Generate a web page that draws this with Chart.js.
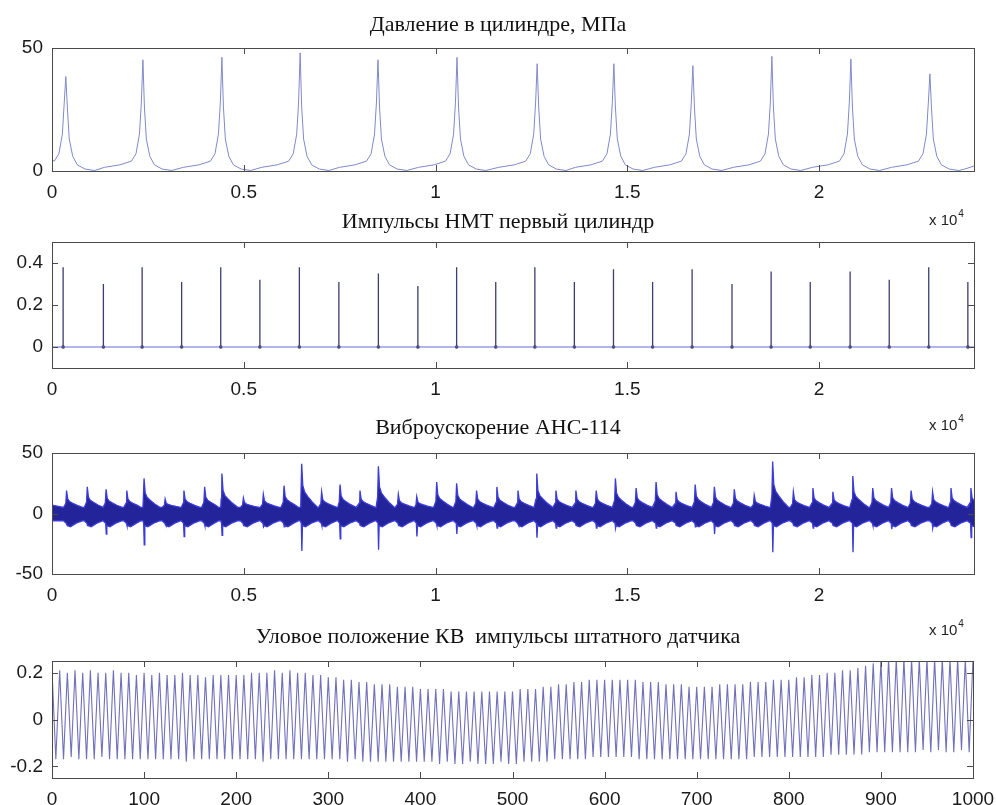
<!DOCTYPE html>
<html>
<head>
<meta charset="utf-8">
<script src="https://cdn.jsdelivr.net/npm/chart.js@4.4.1/dist/chart.umd.min.js"></script>
<style>
  body { margin: 0; background: #fff; }
  #wrap { position: relative; width: 996px; height: 805px; }
  canvas { position: absolute; left: 0; }
</style>
</head>
<body>
<div id="wrap">
  <canvas id="c1" width="996" height="205" style="top:0px"></canvas>
  <canvas id="c2" width="996" height="200" style="top:205px"></canvas>
  <canvas id="c3" width="996" height="205" style="top:405px"></canvas>
  <canvas id="c4" width="996" height="195" style="top:610px"></canvas>
</div>
<script>
// --- tick labels ---
const xTicks = [0, 0.5, 1, 1.5, 2];            // x 10^4
const kvXTicks = [0, 100, 200, 300, 400, 500, 600, 700, 800, 900, 1000];
const yTicksP = [0, 50];
const yTicksN = [0, 0.2, 0.4];
const yTicksV = [-50, 0, 50];
const yTicksK = [-0.2, 0, 0.2];

// --- 1. давление в цилиндре: пики (x 10^4) и их высоты, МПа ---
const pressurePeakX = [0.036, 0.237, 0.443, 0.647, 0.850, 1.056, 1.265, 1.465, 1.671, 1.877, 2.083, 2.289];
const pressurePeakY = [38.4, 45.2, 46.2, 48.0, 45.2, 46.2, 43.6, 43.6, 42.8, 46.6, 45.5, 39.5];
// форма импульса (смещение от пика, давление)
const pulseOffsets = [-0.10, -0.06, -0.03, -0.018, -0.009, -0.004, 0, 0.004, 0.009, 0.018, 0.03, 0.05, 0.075];
const pulseLevels  = [1.5, 2.5, 4, 7, 15, 28, null, 26, 13, 6, 2.5, 0.8, 0.2];
const pressureHead = [[0, 4.5]];
const pressureTail = [[2.38, 0.8], [2.404, 2.0]];

// --- 2. импульсы НМТ ---
const nmtX = [0.029, 0.134, 0.235, 0.338, 0.440, 0.542, 0.645, 0.748, 0.851, 0.954, 1.055, 1.157,
              1.259, 1.362, 1.464, 1.566, 1.669, 1.773, 1.875, 1.977, 2.081, 2.183, 2.286, 2.388];
const nmtY = [0.38, 0.30, 0.38, 0.31, 0.38, 0.32, 0.38, 0.31, 0.35, 0.29, 0.38, 0.31,
              0.38, 0.31, 0.37, 0.31, 0.37, 0.30, 0.36, 0.31, 0.36, 0.32, 0.38, 0.31];

// --- 3. виброускорение: вспышки, верх и низ огибающей ---
const burstX = [0.038, 0.092, 0.141, 0.195, 0.240, 0.295, 0.344, 0.398, 0.443, 0.499, 0.551, 0.605,
                0.651, 0.703, 0.751, 0.803, 0.851, 0.903, 0.951, 1.003, 1.055, 1.107, 1.160, 1.215,
                1.264, 1.314, 1.366, 1.419, 1.469, 1.523, 1.575, 1.627, 1.677, 1.727, 1.779, 1.831,
                1.879, 1.933, 1.984, 2.036, 2.088, 2.140, 2.189, 2.240, 2.296, 2.344, 2.396];
const burstTop = [19, 22, 20, 19, 29, 12, 19, 22, 33, 13, 16, 23,
                  41, 18, 24, 19, 39, 16, 14, 26, 25, 19, 22, 19,
                  33, 19, 19, 19, 29, 21, 26, 18, 24, 22, 20, 15,
                  43, 18, 21, 18, 31, 21, 21, 19, 18, 21, 21];
const burstLow = [-9, -10, -17, -10, -26, -9, -19, -10, -18, -10, -11, -11,
                  -31, -10, -21, -10, -30, -10, -19, -10, -17, -10, -12, -9,
                  -20, -12, -10, -12, -12, -10, -12, -10, -11, -17, -10, -10,
                  -32, -10, -12, -10, -32, -10, -13, -10, -12, -10, -20];
const vibBaseUp = 5, vibBaseLow = -6;
const upOffsets = [-0.008, -0.002, 0, 0.003, 0.008, 0.016, 0.028, 0.042];
const upShape   = [0, 0.25, 1, 0.5, 0.35, 0.25, 0.12, 0];
const lowOffsets = [-0.008, -0.001, 0.0005, 0.002, 0.01, 0.025, 0.042];
const lowLevels  = [-6, -8, null, -10, -11, -8, -6];

// --- 4. угловое положение КВ: верх и низ каждого колебания ---
const kvPeriod = 1000 / 120;
const kvTop = [
  0.21,0.21,0.20,0.21,0.20,0.21,0.20,0.20,0.21,0.20,0.20,0.19,
  0.20,0.19,0.20,0.19,0.19,0.20,0.19,0.19,0.18,0.19,0.19,0.19,
  0.19,0.19,0.20,0.20,0.20,0.21,0.20,0.21,0.20,0.20,0.19,0.19,
  0.18,0.18,0.17,0.17,0.16,0.16,0.15,0.15,0.15,0.14,0.14,0.14,
  0.13,0.13,0.13,0.13,0.12,0.12,0.12,0.12,0.12,0.12,0.12,0.12,
  0.12,0.13,0.13,0.13,0.14,0.14,0.15,0.15,0.16,0.16,0.17,0.17,
  0.17,0.17,0.17,0.17,0.17,0.16,0.16,0.16,0.15,0.15,0.15,0.14,
  0.14,0.14,0.14,0.15,0.15,0.15,0.15,0.16,0.16,0.16,0.17,0.17,
  0.17,0.18,0.18,0.19,0.19,0.20,0.20,0.21,0.21,0.22,0.23,0.24,
  0.25,0.26,0.26,0.26,0.26,0.26,0.26,0.26,0.26,0.26,0.26,0.26,
  0.26];
const kvBottom = [
  -0.17,-0.17,-0.16,-0.17,-0.17,-0.17,-0.16,-0.17,-0.17,-0.17,-0.17,-0.17,
  -0.17,-0.17,-0.17,-0.17,-0.17,-0.18,-0.17,-0.17,-0.17,-0.17,-0.17,-0.17,
  -0.17,-0.17,-0.17,-0.18,-0.17,-0.17,-0.17,-0.17,-0.17,-0.17,-0.17,-0.17,
  -0.17,-0.17,-0.18,-0.17,-0.18,-0.18,-0.18,-0.18,-0.18,-0.18,-0.18,-0.18,
  -0.18,-0.18,-0.19,-0.18,-0.19,-0.19,-0.18,-0.19,-0.19,-0.19,-0.18,-0.19,
  -0.19,-0.18,-0.18,-0.18,-0.18,-0.17,-0.17,-0.17,-0.17,-0.17,-0.16,-0.16,
  -0.16,-0.16,-0.16,-0.16,-0.17,-0.17,-0.17,-0.17,-0.17,-0.17,-0.17,-0.17,
  -0.17,-0.17,-0.17,-0.17,-0.17,-0.17,-0.17,-0.16,-0.16,-0.16,-0.16,-0.16,
  -0.16,-0.16,-0.16,-0.16,-0.16,-0.15,-0.15,-0.15,-0.15,-0.15,-0.14,-0.14,
  -0.14,-0.14,-0.14,-0.14,-0.14,-0.13,-0.14,-0.13,-0.14,-0.14,-0.13,-0.14];

// ---------- build datasets ----------
const pressure = pressureHead.map(([x, y]) => ({x, y}));
pressurePeakX.forEach((px, i) => {
  pulseOffsets.forEach((o, j) => {
    const x = px + o;
    if (x <= 0) return;
    pressure.push({x, y: pulseLevels[j] === null ? pressurePeakY[i] : pulseLevels[j]});
  });
});
pressureTail.forEach(([x, y]) => pressure.push({x, y}));

const nmtSpikes = [];
nmtX.forEach((x, i) => {
  nmtSpikes.push({x, y: 0}, {x, y: nmtY[i]}, {x, y: null});
});

const vibUpper = [{x: 0, y: 7}];
const vibLower = [{x: 0, y: -6}];
burstX.forEach((bx, i) => {
  upOffsets.forEach((o, j) => vibUpper.push({x: bx + o, y: vibBaseUp + (burstTop[i] - vibBaseUp) * upShape[j]}));
  lowOffsets.forEach((o, j) => vibLower.push({x: bx + o, y: lowLevels[j] === null ? burstLow[i] : lowLevels[j]}));
});
vibUpper.sort((a, b) => a.x - b.x);
vibLower.sort((a, b) => a.x - b.x);

const kv = [];
kvBottom.forEach((b, i) => {
  kv.push({x: i * kvPeriod, y: kvTop[i]}, {x: i * kvPeriod + kvPeriod / 2, y: b});
});
kv.push({x: 1000, y: kvTop[kvTop.length - 1]});

// ---------- helpers ----------
Chart.defaults.font.family = '"Liberation Sans", Arial, sans-serif';
const serif = '"Liberation Serif", "Times New Roman", serif';

const boxPlugin = {
  id: 'box',
  afterDraw(chart) {
    const {ctx, chartArea: a} = chart;
    const x = chart.scales.x, y = chart.scales.y;
    ctx.save();
    ctx.strokeStyle = '#4a4a4a';
    ctx.lineWidth = 1;
    ctx.strokeRect(Math.round(a.left) + 0.5, Math.round(a.top) + 0.5, Math.round(a.width), Math.round(a.height));
    ctx.beginPath();
    x.ticks.forEach((t, i) => {
      const p = Math.round(x.getPixelForTick(i)) + 0.5;
      ctx.moveTo(p, a.top); ctx.lineTo(p, a.top + 6);
      ctx.moveTo(p, a.bottom); ctx.lineTo(p, a.bottom - 6);
    });
    y.ticks.forEach((t, i) => {
      const p = Math.round(y.getPixelForTick(i)) + 0.5;
      ctx.moveTo(a.left, p); ctx.lineTo(a.left + 6, p);
      ctx.moveTo(a.right, p); ctx.lineTo(a.right - 6, p);
    });
    ctx.stroke();
    ctx.restore();
  }
};

function expLabel(yBase) {
  return {
    id: 'exp',
    afterDraw(chart) {
      const ctx = chart.ctx;
      ctx.save();
      ctx.fillStyle = '#222';
      ctx.font = '15px "Liberation Sans", Arial, sans-serif';
      ctx.textBaseline = 'alphabetic';
      ctx.fillText('x 10', 929, yBase);
      const w = ctx.measureText('x 10').width;
      ctx.font = '10px "Liberation Sans", Arial, sans-serif';
      ctx.fillText('4', 929 + w + 1, yBase - 8);
      ctx.restore();
    }
  };
}

function makeChart(id, datasets, o) {
  return new Chart(document.getElementById(id), {
    type: 'line',
    data: { datasets },
    options: {
      responsive: false,
      animation: false,
      devicePixelRatio: 1,
      layout: { padding: 0 },
      elements: { point: { radius: 0 }, line: { borderWidth: 1, tension: 0 } },
      plugins: {
        legend: { display: false },
        tooltip: { enabled: false },
        title: {
          display: true,
          text: o.title,
          color: '#111',
          font: { family: serif, size: 22, weight: 'normal', lineHeight: 1.2 },
          padding: { top: o.tp, bottom: o.bp }
        }
      },
      scales: {
        x: {
          type: 'linear', min: o.xMin, max: o.xMax,
          grid: { display: false, drawTicks: false },
          border: { display: false },
          afterBuildTicks: s => { s.ticks = o.xTicks.map(v => ({ value: v })); },
          afterFit: s => { s.height = o.xh; s.paddingLeft = 0; s.paddingRight = 0; },
          ticks: { color: '#1a1a1a', font: { size: 19 }, padding: 10, maxRotation: 0, autoSkip: false,
                   callback: v => String(v) }
        },
        y: {
          type: 'linear', min: o.yMin, max: o.yMax,
          grid: { display: false, drawTicks: false },
          border: { display: false },
          afterBuildTicks: s => { s.ticks = o.yTicks.map(v => ({ value: v })); },
          afterFit: s => { s.width = 52; },
          ticks: { color: '#1a1a1a', font: { size: 19 }, padding: 9, autoSkip: false,
                   callback: v => String(v) }
        },
        // empty right-hand strip so the plot ends where the reference box ends
        yr: {
          position: 'right', min: 0, max: 1,
          grid: { display: false, drawTicks: false },
          border: { display: false },
          ticks: { display: false },
          afterFit: s => { s.width = o.rw || 22; }
        }
      }
    },
    plugins: [boxPlugin].concat(o.extra || [])
  });
}

// 1
makeChart('c1', [
  { data: pressure, borderColor: '#8189c9', borderWidth: 1 }
], { title: 'Давление в цилиндре, МПа', tp: 11.8, bp: 9.8, xh: 34,
     xMin: 0, xMax: 2.404, xTicks, yMin: 0, yMax: 50, yTicks: yTicksP });

// 2
makeChart('c2', [
  { data: [{x: 0, y: 0}, {x: 2.404, y: 0}], borderColor: '#6a6ad6', borderWidth: 1 },
  { data: nmtSpikes, borderColor: '#3d3d6e', borderWidth: 1.3, spanGaps: false },
  { data: nmtX.map(x => ({x, y: 0})), showLine: false, pointRadius: 1.8,
    pointBackgroundColor: '#333', pointBorderWidth: 0 }
], { title: 'Импульсы НМТ первый цилиндр', tp: 3.8, bp: 6.8, xh: 37,
     xMin: 0, xMax: 2.404, xTicks, yMin: -0.1, yMax: 0.5, yTicks: yTicksN,
     extra: [expLabel(20)] });

// 3
makeChart('c3', [
  { data: vibUpper, borderColor: '#3c3cd8', borderWidth: 1.3, fill: false },
  { data: vibLower, borderColor: '#3c3cd8', borderWidth: 1.3, fill: '-1', backgroundColor: '#24249a' }
], { title: 'Виброускорение АНС-114', tp: 9.8, bp: 11.8, xh: 36,
     xMin: 0, xMax: 2.404, xTicks, yMin: -50, yMax: 50, yTicks: yTicksV,
     extra: [expLabel(25)] });

// 4
makeChart('c4', [
  { data: kv, borderColor: 'rgba(72,72,168,0.78)', borderWidth: 1.1 }
], { title: 'Уловое положение КВ  импульсы штатного датчика', tp: 13.8, bp: 10.8, xh: 27, rw: 23,
     xMin: 0, xMax: 1000, xTicks: kvXTicks, yMin: -0.25, yMax: 0.25, yTicks: yTicksK,
     extra: [expLabel(25)] });
</script>
</body>
</html>
